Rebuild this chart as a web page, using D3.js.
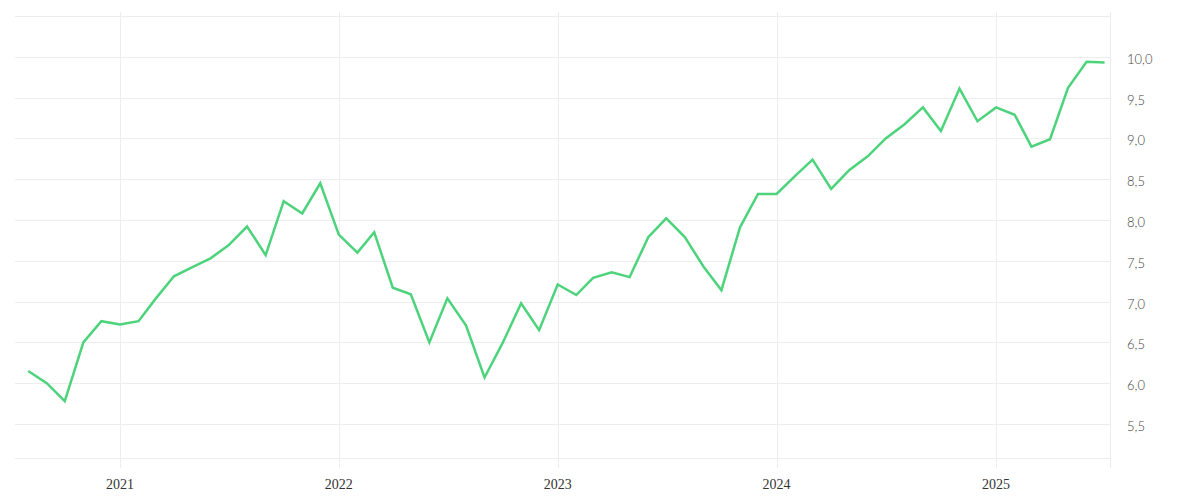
<!DOCTYPE html>
<html>
<head>
<meta charset="utf-8">
<script src="https://cdn.jsdelivr.net/npm/d3@7"></script>
<style>
  html, body { margin: 0; padding: 0; background: #fff; }
  svg { display: block; }
</style>
</head>
<body>
<svg id="chart" width="1200" height="500"></svg>
<script>
const months = [
  "2020-08","2020-09","2020-10","2020-11","2020-12",
  "2021-01","2021-02","2021-03","2021-04","2021-05","2021-06","2021-07","2021-08","2021-09","2021-10","2021-11","2021-12",
  "2022-01","2022-02","2022-03","2022-04","2022-05","2022-06","2022-07","2022-08","2022-09","2022-10","2022-11","2022-12",
  "2023-01","2023-02","2023-03","2023-04","2023-05","2023-06","2023-07","2023-08","2023-09","2023-10","2023-11","2023-12",
  "2024-01","2024-02","2024-03","2024-04","2024-05","2024-06","2024-07","2024-08","2024-09","2024-10","2024-11","2024-12",
  "2025-01","2025-02","2025-03","2025-04","2025-05","2025-06","2025-07"
];
const values = [
  6.15, 6.00, 5.78, 6.50, 6.76,
  6.72, 6.76, 7.03, 7.31, 7.42, 7.53, 7.69, 7.92, 7.57, 8.23, 8.08, 8.45,
  7.82, 7.60, 7.85, 7.17, 7.09, 6.50, 7.04, 6.71, 6.07, 6.49, 6.98, 6.65,
  7.21, 7.08, 7.29, 7.36, 7.30, 7.79, 8.02, 7.79, 7.43, 7.14, 7.91, 8.32,
  8.32, 8.54, 8.74, 8.38, 8.61, 8.78, 9.00, 9.17, 9.38, 9.09, 9.61, 9.21,
  9.38, 9.29, 8.90, 8.99, 9.62, 9.94, 9.93
];
const yearTicks = ["2021", "2022", "2023", "2024", "2025"];
const yTicks = [5.5, 6.0, 6.5, 7.0, 7.5, 8.0, 8.5, 9.0, 9.5, 10.0];
const yGridExtra = [10.5];

(function () {
const parseMonth = d3.timeParse("%Y-%m");
const parseDay = d3.timeParse("%Y-%m-%d");
const data = months.map((m, i) => ({ date: parseMonth(m), value: values[i] }));

const pLeft = 15, pRight = 1110, pTop = 16, pBottom = 458;
const svg = d3.select("#chart");

const x = d3.scaleTime()
  .domain([parseDay("2020-07-10"), parseDay("2025-07-10")])
  .range([pLeft, pRight]);
const y = d3.scaleLinear()
  .domain([5.083, 10.5])
  .range([pBottom, pTop]);

const gridColor = "#ededed";

// horizontal gridlines
const hLines = yTicks.concat(yGridExtra);
svg.append("g").selectAll("line").data(hLines).join("line")
  .attr("x1", pLeft).attr("x2", pRight)
  .attr("y1", d => Math.round(y(d)) + 0.5).attr("y2", d => Math.round(y(d)) + 0.5)
  .attr("stroke", gridColor).attr("stroke-width", 1);
// bottom edge
svg.append("line")
  .attr("x1", pLeft).attr("x2", pRight)
  .attr("y1", pBottom + 0.5).attr("y2", pBottom + 0.5)
  .attr("stroke", gridColor).attr("stroke-width", 1);

// vertical year gridlines
const yearDates = yearTicks.map(t => d3.timeParse("%Y")(t));
svg.append("g").selectAll("line").data(yearDates).join("line")
  .attr("x1", d => Math.round(x(d)) + 0.5).attr("x2", d => Math.round(x(d)) + 0.5)
  .attr("y1", 12).attr("y2", 468)
  .attr("stroke", gridColor).attr("stroke-width", 1);
// right border
svg.append("line")
  .attr("x1", pRight + 0.5).attr("x2", pRight + 0.5)
  .attr("y1", 12).attr("y2", 468)
  .attr("stroke", gridColor).attr("stroke-width", 1);

// x labels
svg.append("g").selectAll("text").data(yearDates).join("text")
  .attr("x", d => x(d))
  .attr("y", 489)
  .attr("text-anchor", "middle")
  .attr("font-family", "'Liberation Serif', serif")
  .attr("font-size", 14)
  .attr("fill", "#333")
  .text(d => d3.timeFormat("%Y")(d));

// y labels
const fmt = v => d3.format(".1f")(v).replace(".", ",");
svg.append("g").selectAll("text").data(yTicks).join("text")
  .attr("x", 1127)
  .attr("y", d => y(d) + 7)
  .attr("text-anchor", "start")
  .attr("font-family", "Lato, sans-serif")
  .attr("font-weight", 300)
  .attr("font-size", 13)
  .attr("fill", "#444")
  .text(fmt);

// line
const line = d3.line().x(d => x(d.date)).y(d => y(d.value));
svg.append("path")
  .datum(data)
  .attr("d", line)
  .attr("fill", "none")
  .attr("stroke", "#4cd37b")
  .attr("stroke-width", 2.5)
  .attr("stroke-linejoin", "miter");
})();
</script>
</body>
</html>
